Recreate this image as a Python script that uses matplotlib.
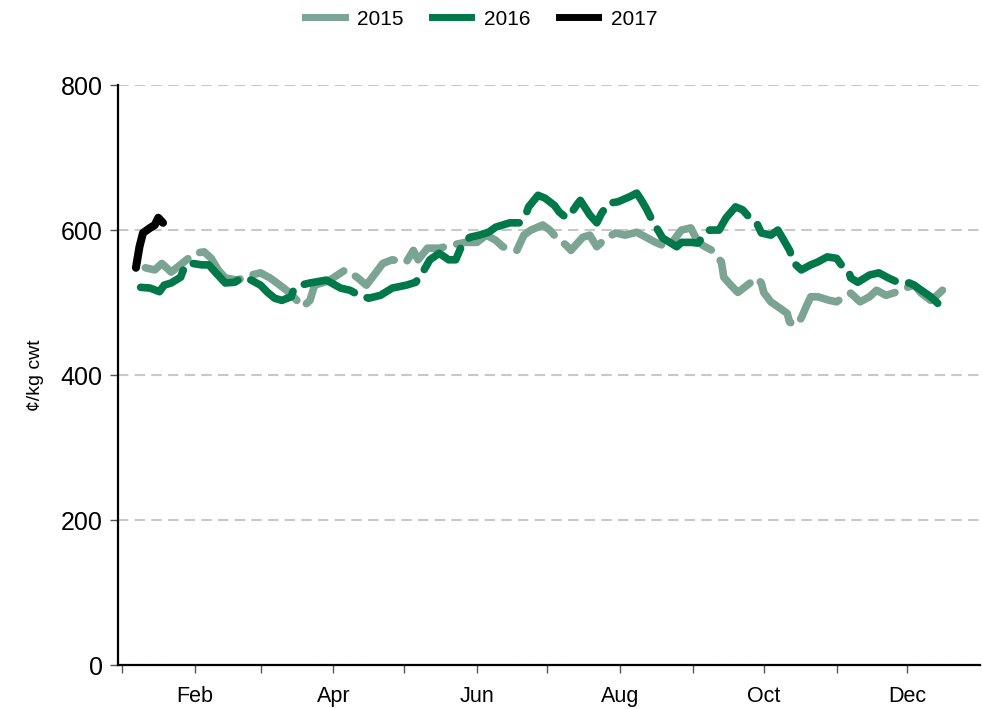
import matplotlib.pyplot as plt
from matplotlib.lines import Line2D

plt.rcParams['font.family'] = ['Liberation Sans', 'DejaVu Sans']

# day of year (0 = 1 Jan) and price, cents/kg cwt
days_2015 = [10, 14, 17, 21, 31, 35, 38, 41, 44, 49, 55, 59, 63, 66, 70, 73, 77, 80, 82,
             88, 95, 100, 104, 111, 115, 121, 124, 126, 130, 135, 140, 146, 151, 155, 159,
             162, 168, 171, 174, 179, 182, 185, 189, 191, 196, 199, 202, 206, 210, 214, 219,
             223, 227, 230, 234, 238, 242, 244, 247, 251, 255, 256, 259, 262, 266, 270, 272,
             273, 276, 280, 283, 284, 287, 289, 291, 293, 296, 301, 304, 308, 310, 314, 318,
             321, 325, 329, 333, 337, 340, 344, 346, 349]
vals_2015 = [548, 545, 554, 542, 568, 570, 561, 545, 534, 531, 538, 541, 534, 527, 517, 508,
             494, 503, 524, 530, 545, 535, 524, 554, 559, 556, 572, 559, 575, 575, 579, 583,
             583, 593, 586, 577, 572, 593, 600, 607, 600, 589, 579, 572, 590, 593, 577, 589,
             596, 593, 597, 590, 583, 579, 583, 600, 603, 590, 579, 572, 556, 535, 524, 514,
             524, 534, 527, 514, 501, 492, 485, 473, 469, 479, 494, 508, 508, 503, 501, 510,
             513, 501, 508, 517, 510, 514, 520, 524, 513, 503, 508, 517]

days_2016 = [8, 12, 16, 18, 21, 25, 27, 30, 34, 37, 40, 42, 44, 48, 51, 55, 59, 62, 65, 68,
             72, 73, 76, 80, 87, 93, 97, 101, 105, 110, 115, 121, 125, 128, 131, 135, 139,
             142, 145, 148, 152, 156, 159, 165, 169, 172, 173, 177, 180, 184, 186, 189, 191,
             194, 195, 199, 202, 204, 207, 211, 216, 219, 221, 223, 225, 228, 230, 233, 236,
             238, 242, 245, 247, 250, 254, 257, 261, 264, 267, 270, 272, 276, 279, 281, 284,
             286, 289, 293, 296, 300, 304, 306, 309, 310, 313, 318, 322, 326, 330, 335, 337,
             340, 344, 347]
vals_2016 = [521, 520, 515, 524, 527, 535, 552, 554, 552, 552, 541, 534, 527, 528, 534, 531,
             524, 514, 506, 503, 508, 517, 524, 527, 531, 520, 517, 510, 506, 510, 520, 524,
             528, 542, 559, 568, 559, 559, 582, 590, 593, 597, 604, 610, 610, 623, 632, 648,
             644, 634, 625, 617, 623, 637, 641, 621, 610, 623, 637, 639, 646, 651, 641, 630,
             617, 600, 589, 583, 577, 583, 583, 582, 590, 600, 600, 617, 632, 628, 617, 610,
             596, 593, 600, 589, 572, 554, 545, 552, 556, 563, 561, 552, 545, 534, 528, 538,
             541, 534, 528, 527, 524, 517, 508, 499]

days_2017 = [6, 7.5, 9, 12, 14, 15.5, 17.5]
vals_2017 = [548, 577, 596, 603, 607, 617, 610]

month_starts = [0, 31, 59, 90, 120, 151, 181, 212, 243, 273, 304, 334]
month_names = ['', 'Feb', '', 'Apr', '', 'Jun', '', 'Aug', '', 'Oct', '', 'Dec']
y_ticks = [0, 200, 400, 600, 800]

c15 = '#7ba493'
c16 = '#00784a'
c17 = '#000000'

fig = plt.figure(figsize=(9.82, 7.09), dpi=100)
ax = fig.add_axes([0.120, 0.062, 0.878, 0.818])

ax.set_ylim(0, 800)
ax.set_xlim(-1.7, 365)
ax.set_yticks(y_ticks)
ax.yaxis.grid(True, color='#c8c8c8', linestyle=(0, (5, 3)), linewidth=1.5)
ax.set_axisbelow(True)

dash = (0, (7, 1.8))
for d, v, c in [(days_2015, vals_2015, c15), (days_2016, vals_2016, c16)]:
    ax.plot(d, v, color=c, linewidth=5.5, linestyle=dash,
            dash_capstyle='round', solid_capstyle='round', solid_joinstyle='round')
ax.plot(days_2017, vals_2017, color=c17, linewidth=5.8, solid_capstyle='round',
        solid_joinstyle='round')

ax.set_xticks(month_starts)
ax.set_xticklabels(month_names, fontsize=15.5)
ax.tick_params(axis='x', direction='out', length=6, width=1, color='#555555', pad=9)
ax.tick_params(axis='y', direction='out', length=6, width=1, color='#555555',
               labelsize=18, pad=5)

for s in ['top', 'right']:
    ax.spines[s].set_visible(False)
ax.spines['left'].set_linewidth(1.6)
ax.spines['bottom'].set_linewidth(1.6)

ax.set_ylabel('¢/kg cwt', fontsize=14, labelpad=12)

handles = [Line2D([], [], color=c15, linewidth=5),
           Line2D([], [], color=c16, linewidth=5),
           Line2D([], [], color=c17, linewidth=5)]
fig.legend(handles, ['2015', '2016', '2017'], loc='center', bbox_to_anchor=(0.49, 0.973),
           ncol=3, frameon=False, fontsize=15, handlelength=1.9, columnspacing=1.35,
           handletextpad=0.6)

fig.savefig('out.png', dpi=100)
